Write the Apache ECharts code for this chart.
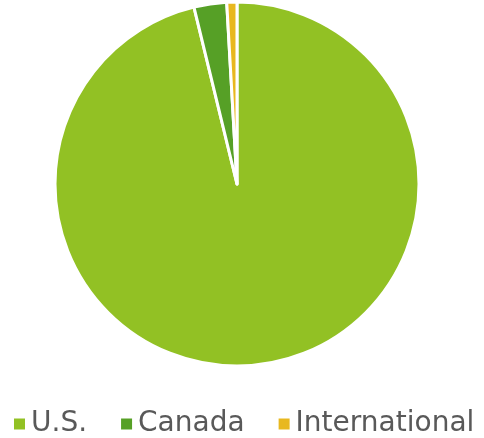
<!DOCTYPE html>
<html lang="en">
<head>
    <meta charset="UTF-8">
    <title>Pie</title>
    <script src="https://cdn.jsdelivr.net/npm/echarts@6/dist/echarts.min.js"></script>
    <style>body{margin:0;background:#fff;}</style>
</head>
<body>
<div id="main" style="width:484px;height:438px;"></div>
<script>
    var categories = ['U.S.', 'Canada', 'International'];
    var values = [96.2, 2.9, 0.9];
    var colors = ['#92c124', '#56a026', '#e8b81f'];

    var showdata = [];
    for (var i = 0; i < categories.length; i++) {
        showdata.push({name: categories[i], value: values[i], itemStyle: {color: colors[i]}});
    }

    var myChart = echarts.init(document.getElementById('main'));
    var option = {
        animation: false,
        legend: {
            left: 7,
            right: 0,
            top: 405,
            itemWidth: 13,
            itemHeight: 13,
            itemGap: 32,
            icon: 'rect',
            textStyle: {fontFamily: 'DejaVu Sans', fontSize: 28, color: '#595959'},
            data: categories
        },
        series: [{
            type: 'pie',
            center: [237, 184],
            radius: 182,
            startAngle: 90,
            clockwise: true,
            label: {show: false},
            labelLine: {show: false},
            itemStyle: {borderColor: '#fff', borderWidth: 3},
            data: showdata
        }]
    };
    myChart.setOption(option);
</script>
</body>
</html>
